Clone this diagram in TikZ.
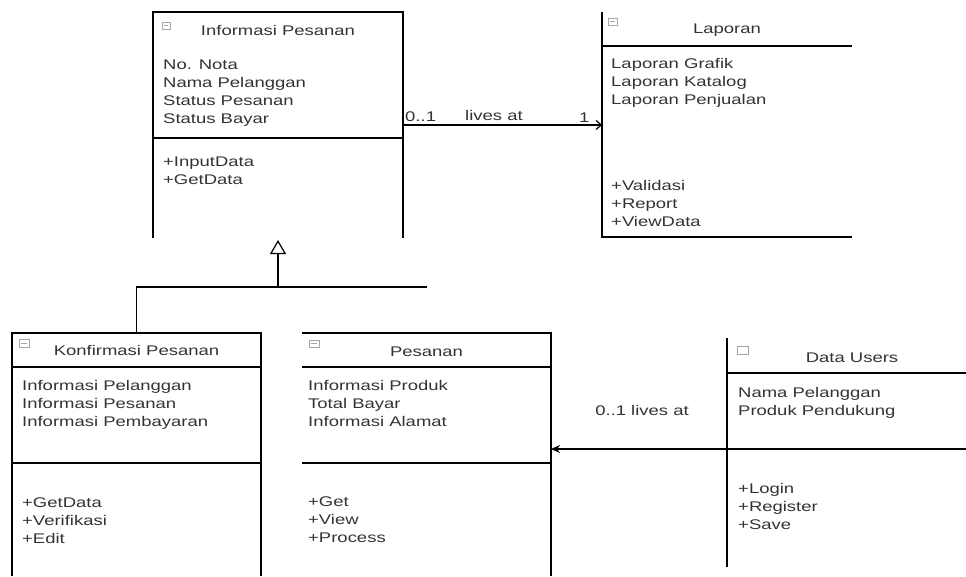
\documentclass[tikz,border=0pt]{standalone}
\usepackage{fontspec}
\setmainfont[FakeStretch=1.32]{Liberation Sans}
\usetikzlibrary{arrows.meta,calc}
\begin{document}
\begin{tikzpicture}[x=1pt,y=-1pt,
  box/.style={rectangle,draw=none,inner sep=0pt,outer sep=0pt,minimum width=250pt,anchor=north west},
  ln/.style={line width=1.2pt,black},
  ttl/.style={anchor=base,inner sep=0pt,font=\fontsize{14}{18}\selectfont,text=black!80},
  txt/.style={anchor=north west,inner sep=0pt,align=left,font=\fontsize{14}{18}\selectfont,text=black!80},
  lbl/.style={inner sep=0pt,font=\fontsize{14}{18}\selectfont,text=black!80},
  icon/.style={draw=gray!70,line width=0.8pt}]
\useasboundingbox (0,0) rectangle (966,576);
\clip (0,0) rectangle (966,576);
\fill[white] (0,0) rectangle (966,576);

% class boxes (invisible frames, borders drawn below)
\node[box,minimum height=226pt] (infop) at (153,12) {};
\node[box,minimum height=225pt] (lap) at (602,12) {};
\node[box,minimum width=249pt,minimum height=243pt] (konf) at (12,333) {};
\node[box,minimum width=249pt,minimum height=243pt] (pes) at (302,333) {};
\node[box,minimum height=229pt] (du) at (727,338) {};

% Informasi Pesanan
\draw[ln] (infop.south west) -- (infop.north west) -- (infop.north east) -- (infop.south east);
\draw[ln] (153,138) -- (403,138);
\draw[icon] (162,22) rectangle (170,29); \draw[icon] (164,25.5) -- (168,25.5);
\node[ttl] (ipt) at (278,35) {Informasi Pesanan};
\node[txt] (ipa) at (163,60) {No. Nota\\Nama Pelanggan\\Status Pesanan\\Status Bayar};
\node[txt] (ipm) at (163,157) {+InputData\\+GetData};

% Laporan
\draw[ln] (lap.north west) -- (lap.south west) -- (lap.south east);
\draw[ln] (602,46) -- (852,46);
\draw[icon] (608,18) rectangle (617,25); \draw[icon] (610,21.5) -- (615,21.5);
\node[ttl] (lpt) at (727,33) {Laporan};
\node[txt] (lpa) at (611,58) {Laporan Grafik\\Laporan Katalog\\Laporan Penjualan};
\node[txt] (lpm) at (611,180) {+Validasi\\+Report\\+ViewData};

% Konfirmasi Pesanan
\draw[ln] (konf.south west) -- (konf.north west) -- (konf.north east) -- (konf.south east);
\draw[ln] (12,367) -- (261,367);
\draw[ln] (12,463) -- (261,463);
\draw[icon] (19,339) rectangle (29,347); \draw[icon] (21,343) -- (27,343);
\node[ttl] (kft) at (136.5,355) {Konfirmasi Pesanan};
\node[txt] (kfa) at (22,380) {Informasi Pelanggan\\Informasi Pesanan\\Informasi Pembayaran};
\node[txt] (kfm) at (22,498) {+GetData\\+Verifikasi\\+Edit};

% Pesanan
\draw[ln] (pes.north west) -- (pes.north east) -- (pes.south east);
\draw[ln] (302,367) -- (551,367);
\draw[ln] (302,463) -- (551,463);
\draw[icon] (309,340) rectangle (319,347); \draw[icon] (311,343.5) -- (317,343.5);
\node[ttl] (pst) at (426.5,356) {Pesanan};
\node[txt] (psa) at (308,380) {Informasi Produk\\Total Bayar\\Informasi Alamat};
\node[txt] (psm) at (308,497) {+Get\\+View\\+Process};

% Data Users
\draw[ln] (du.north west) -- (du.south west);
\draw[ln] (727,373) -- (977,373);
\draw[icon] (737,346) rectangle (748,354);
\node[ttl] (dut) at (852,362) {Data Users};
\node[txt] (dua) at (738,387) {Nama Pelanggan\\Produk Pendukung};
\node[txt] (dum) at (738,483) {+Login\\+Register\\+Save};

% association Informasi Pesanan -> Laporan
\coordinate (r1) at (500,125);
\draw[ln,-{Straight Barb[length=5pt,width=9pt]}] (infop.east |- r1) -- (lap.west |- r1);
\node[lbl,anchor=base west] (m1) at (405,121) {0..1};
\node[lbl,anchor=base] (l1) at (494,120) {lives at};
\node[lbl,anchor=base west] (m2) at (579,122) {1};

% association Data Users -> Pesanan
\coordinate (r2) at (700,449);
\draw[ln,-{Stealth[length=9pt,width=8pt]}] (du.east |- r2) -- (pes.east |- r2);
\node[lbl,anchor=base] (l2) at (642,415) {0..1 lives at};

% generalization
\coordinate (jn) at (278,287);
\coordinate (gtip) at (278,240);
\draw[ln,-{Triangle[open,length=14pt,width=16pt,fill=white]}] (konf.north) |- (jn) -- (infop.south |- gtip);
\draw[ln] (jn) -- (pes.north |- jn);
\end{tikzpicture}
\end{document}
